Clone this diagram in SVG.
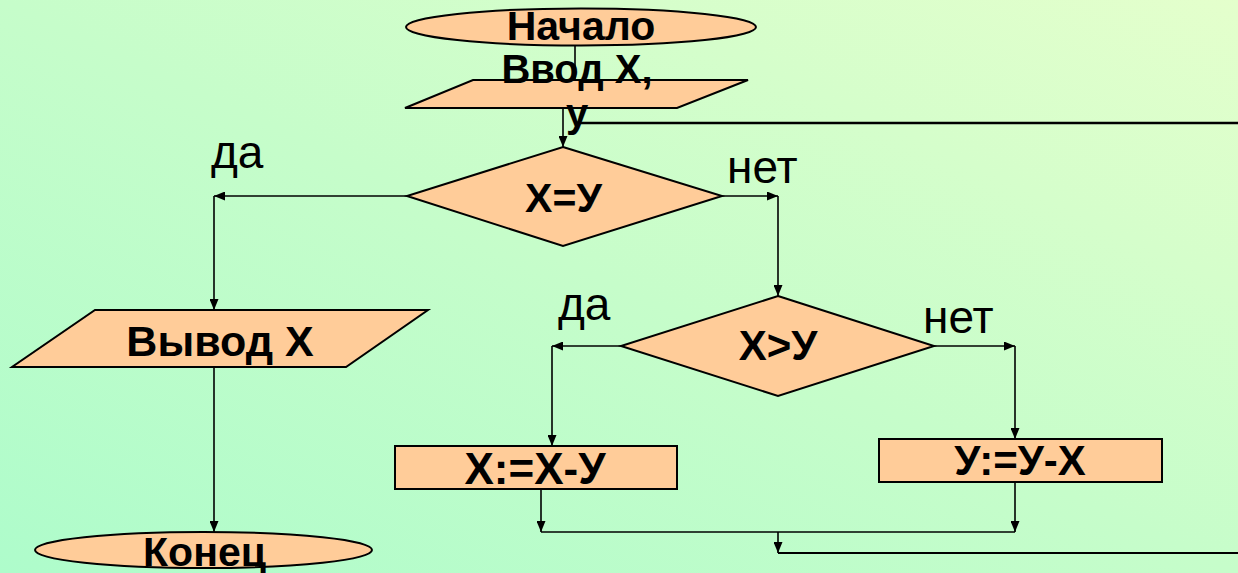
<svg xmlns="http://www.w3.org/2000/svg" width="1238" height="573" viewBox="0 0 1238 573">
  <defs>
    <linearGradient id="bg" x1="0" y1="1" x2="1" y2="0">
      <stop offset="0" stop-color="#aefccb"/>
      <stop offset="0.5" stop-color="#c6fdca"/>
      <stop offset="1" stop-color="#e4ffcc"/>
    </linearGradient>
    <marker id="arr" markerUnits="userSpaceOnUse" markerWidth="12" markerHeight="9" refX="11" refY="4.5" orient="auto">
      <path d="M0,0 L11,4.5 L0,9 z" fill="#000"/>
    </marker>
    <style>
      .shape { fill: #ffcc99; stroke: #000; stroke-width: 2; }
      .conn { fill: none; stroke: #000; stroke-width: 1.6; }
      .t { font-family: "Liberation Sans", Arial, sans-serif; font-weight: bold; fill: #000; text-anchor: middle; }
      .lbl { font-family: "Liberation Sans", Arial, sans-serif; font-size: 46px; fill: #000; }
    </style>
  </defs>
  <rect x="0" y="0" width="1238" height="573" fill="url(#bg)"/>

  <g id="connectors">
    <line class="conn" x1="575" y1="45" x2="575" y2="80"/>
    <line class="conn" x1="563" y1="108" x2="563" y2="147" marker-end="url(#arr)"/>
    <line class="conn" x1="578" y1="123" x2="1238" y2="123" style="stroke-width:2.4"/>
    <polyline class="conn" points="407,196 214,196" marker-end="url(#arr)"/>
    <line class="conn" x1="214" y1="196" x2="214" y2="310" marker-end="url(#arr)"/>
    <polyline class="conn" points="722,196 778,196" marker-end="url(#arr)"/>
    <line class="conn" x1="778" y1="196" x2="778" y2="296" marker-end="url(#arr)"/>
    <line class="conn" x1="214" y1="367" x2="214" y2="532" marker-end="url(#arr)"/>
    <polyline class="conn" points="621,346 552,346" marker-end="url(#arr)"/>
    <line class="conn" x1="552" y1="346" x2="552" y2="446" marker-end="url(#arr)"/>
    <polyline class="conn" points="934,346 1015,346" marker-end="url(#arr)"/>
    <line class="conn" x1="1015" y1="346" x2="1015" y2="439" marker-end="url(#arr)"/>
    <line class="conn" x1="541" y1="489" x2="541" y2="532" marker-end="url(#arr)"/>
    <line class="conn" x1="1015" y1="482" x2="1015" y2="532" marker-end="url(#arr)"/>
    <line class="conn" x1="541" y1="532" x2="1015" y2="532"/>
    <line class="conn" x1="778" y1="532" x2="778" y2="553" marker-end="url(#arr)"/>
    <line class="conn" x1="778" y1="553" x2="1238" y2="553" style="stroke-width:2.2"/>
  </g>

  <g id="start">
    <ellipse class="shape" cx="581" cy="27" rx="175" ry="18.5"/>
    <text class="t" x="581" y="40" font-size="41">Начало</text>
  </g>

  <g id="input">
    <polygon class="shape" points="473,80 748,80 677,108 405,108"/>
    <text class="t" x="577" y="83" font-size="40">Ввод Х,</text>
    <text class="t" x="577" y="127" font-size="40">у</text>
  </g>

  <g id="cond1">
    <polygon class="shape" points="563,147 722,196 563,246 407,196"/>
    <text class="t" x="563.5" y="212" font-size="41">X=У</text>
  </g>

  <g id="output">
    <polygon class="shape" points="95,310 428,310 346,367 12,367"/>
    <text class="t" x="220" y="356" font-size="43">Вывод Х</text>
  </g>

  <g id="end">
    <ellipse class="shape" cx="203.5" cy="550" rx="168.5" ry="18"/>
    <text class="t" x="204.5" y="566" font-size="41">Конец</text>
  </g>

  <g id="cond2">
    <polygon class="shape" points="778,296 934,346 778,396 621,346"/>
    <text class="t" x="778" y="360" font-size="42">X&gt;У</text>
  </g>

  <g id="assignX">
    <rect class="shape" x="395" y="446" width="282" height="43"/>
    <text class="t" x="535" y="484" font-size="44">X:=X-У</text>
  </g>

  <g id="assignY">
    <rect class="shape" x="879" y="439" width="283" height="43"/>
    <text class="t" x="1020" y="475" font-size="42">У:=У-X</text>
  </g>

  <g id="labels">
    <text class="lbl" x="211" y="168">да</text>
    <text class="lbl" x="727" y="183">нет</text>
    <text class="lbl" x="558" y="320">да</text>
    <text class="lbl" x="923" y="333">нет</text>
  </g>
</svg>
